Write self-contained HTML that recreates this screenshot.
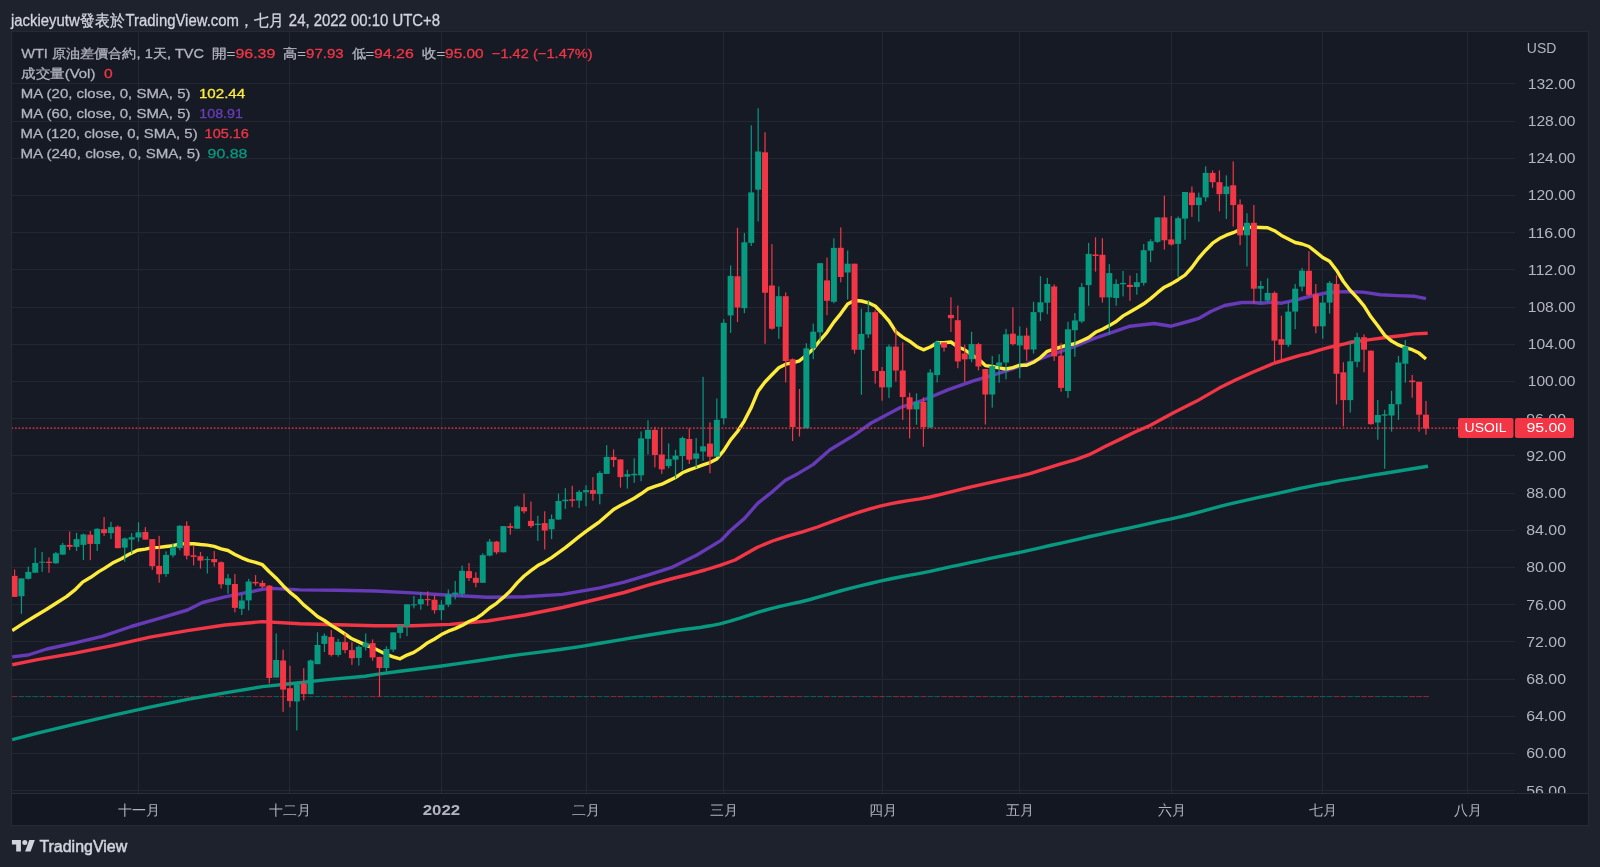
<!DOCTYPE html>
<html><head><meta charset="utf-8"><style>
*{margin:0;padding:0;box-sizing:border-box}
html,body{width:1600px;height:867px;overflow:hidden;background:#1e222d}
svg{position:absolute;left:0;top:0;font-family:"Liberation Sans",sans-serif}
.tx{will-change:transform}
</style></head><body>
<svg width="1600" height="867" viewBox="0 0 1600 867">
<defs>
<clipPath id="cp"><rect x="12" y="32" width="1503" height="761"/></clipPath>
<clipPath id="ca"><rect x="1516" y="32" width="72" height="761"/></clipPath>
</defs>
<rect x="11.5" y="31.5" width="1577" height="794" fill="#161a25" stroke="#262a35" stroke-width="1"/>
<rect x="12" y="794" width="1576" height="31" fill="#131722"/>
<line x1="12" y1="793.5" x2="1588" y2="793.5" stroke="#2a2e39" stroke-width="1"/>
<line x1="1515.5" y1="793" x2="1515.5" y2="794" stroke="#161a25" stroke-width="1"/>
<g clip-path="url(#cp)">
<line x1="12" y1="790.5" x2="1515" y2="790.5" stroke="#232733" stroke-width="1"/>
<line x1="12" y1="753.5" x2="1515" y2="753.5" stroke="#232733" stroke-width="1"/>
<line x1="12" y1="716.5" x2="1515" y2="716.5" stroke="#232733" stroke-width="1"/>
<line x1="12" y1="679.5" x2="1515" y2="679.5" stroke="#232733" stroke-width="1"/>
<line x1="12" y1="641.5" x2="1515" y2="641.5" stroke="#232733" stroke-width="1"/>
<line x1="12" y1="604.5" x2="1515" y2="604.5" stroke="#232733" stroke-width="1"/>
<line x1="12" y1="567.5" x2="1515" y2="567.5" stroke="#232733" stroke-width="1"/>
<line x1="12" y1="530.5" x2="1515" y2="530.5" stroke="#232733" stroke-width="1"/>
<line x1="12" y1="493.5" x2="1515" y2="493.5" stroke="#232733" stroke-width="1"/>
<line x1="12" y1="455.5" x2="1515" y2="455.5" stroke="#232733" stroke-width="1"/>
<line x1="12" y1="418.5" x2="1515" y2="418.5" stroke="#232733" stroke-width="1"/>
<line x1="12" y1="381.5" x2="1515" y2="381.5" stroke="#232733" stroke-width="1"/>
<line x1="12" y1="344.5" x2="1515" y2="344.5" stroke="#232733" stroke-width="1"/>
<line x1="12" y1="307.5" x2="1515" y2="307.5" stroke="#232733" stroke-width="1"/>
<line x1="12" y1="269.5" x2="1515" y2="269.5" stroke="#232733" stroke-width="1"/>
<line x1="12" y1="232.5" x2="1515" y2="232.5" stroke="#232733" stroke-width="1"/>
<line x1="12" y1="195.5" x2="1515" y2="195.5" stroke="#232733" stroke-width="1"/>
<line x1="12" y1="158.5" x2="1515" y2="158.5" stroke="#232733" stroke-width="1"/>
<line x1="12" y1="121.5" x2="1515" y2="121.5" stroke="#232733" stroke-width="1"/>
<line x1="12" y1="83.5" x2="1515" y2="83.5" stroke="#232733" stroke-width="1"/>
<line x1="138.5" y1="32" x2="138.5" y2="793" stroke="#232733" stroke-width="1"/>
<line x1="289.5" y1="32" x2="289.5" y2="793" stroke="#232733" stroke-width="1"/>
<line x1="441.5" y1="32" x2="441.5" y2="793" stroke="#232733" stroke-width="1"/>
<line x1="586.5" y1="32" x2="586.5" y2="793" stroke="#232733" stroke-width="1"/>
<line x1="723.5" y1="32" x2="723.5" y2="793" stroke="#232733" stroke-width="1"/>
<line x1="882.5" y1="32" x2="882.5" y2="793" stroke="#232733" stroke-width="1"/>
<line x1="1019.5" y1="32" x2="1019.5" y2="793" stroke="#232733" stroke-width="1"/>
<line x1="1171.5" y1="32" x2="1171.5" y2="793" stroke="#232733" stroke-width="1"/>
<line x1="1322.5" y1="32" x2="1322.5" y2="793" stroke="#232733" stroke-width="1"/>
<line x1="1467.5" y1="32" x2="1467.5" y2="793" stroke="#232733" stroke-width="1"/>
<rect x="11.72" y="696" width="5.7" height="1.1" fill="#f23645" fill-opacity="0.5"/>
<rect x="18.60" y="696" width="5.7" height="1.1" fill="#089981" fill-opacity="0.5"/>
<rect x="25.49" y="696" width="5.7" height="1.1" fill="#089981" fill-opacity="0.5"/>
<rect x="32.38" y="696" width="5.7" height="1.1" fill="#089981" fill-opacity="0.5"/>
<rect x="39.26" y="696" width="5.7" height="1.1" fill="#089981" fill-opacity="0.5"/>
<rect x="46.15" y="696" width="5.7" height="1.1" fill="#f23645" fill-opacity="0.5"/>
<rect x="53.03" y="696" width="5.7" height="1.1" fill="#089981" fill-opacity="0.5"/>
<rect x="59.91" y="696" width="5.7" height="1.1" fill="#089981" fill-opacity="0.5"/>
<rect x="66.80" y="696" width="5.7" height="1.1" fill="#f23645" fill-opacity="0.5"/>
<rect x="73.69" y="696" width="5.7" height="1.1" fill="#089981" fill-opacity="0.5"/>
<rect x="80.57" y="696" width="5.7" height="1.1" fill="#089981" fill-opacity="0.5"/>
<rect x="87.46" y="696" width="5.7" height="1.1" fill="#f23645" fill-opacity="0.5"/>
<rect x="94.34" y="696" width="5.7" height="1.1" fill="#089981" fill-opacity="0.5"/>
<rect x="101.23" y="696" width="5.7" height="1.1" fill="#f23645" fill-opacity="0.5"/>
<rect x="108.11" y="696" width="5.7" height="1.1" fill="#089981" fill-opacity="0.5"/>
<rect x="115.00" y="696" width="5.7" height="1.1" fill="#f23645" fill-opacity="0.5"/>
<rect x="121.88" y="696" width="5.7" height="1.1" fill="#089981" fill-opacity="0.5"/>
<rect x="128.77" y="696" width="5.7" height="1.1" fill="#089981" fill-opacity="0.5"/>
<rect x="135.65" y="696" width="5.7" height="1.1" fill="#089981" fill-opacity="0.5"/>
<rect x="142.53" y="696" width="5.7" height="1.1" fill="#f23645" fill-opacity="0.5"/>
<rect x="149.42" y="696" width="5.7" height="1.1" fill="#f23645" fill-opacity="0.5"/>
<rect x="156.31" y="696" width="5.7" height="1.1" fill="#f23645" fill-opacity="0.5"/>
<rect x="163.19" y="696" width="5.7" height="1.1" fill="#089981" fill-opacity="0.5"/>
<rect x="170.08" y="696" width="5.7" height="1.1" fill="#089981" fill-opacity="0.5"/>
<rect x="176.96" y="696" width="5.7" height="1.1" fill="#089981" fill-opacity="0.5"/>
<rect x="183.84" y="696" width="5.7" height="1.1" fill="#f23645" fill-opacity="0.5"/>
<rect x="190.73" y="696" width="5.7" height="1.1" fill="#f23645" fill-opacity="0.5"/>
<rect x="197.62" y="696" width="5.7" height="1.1" fill="#f23645" fill-opacity="0.5"/>
<rect x="204.50" y="696" width="5.7" height="1.1" fill="#089981" fill-opacity="0.5"/>
<rect x="211.39" y="696" width="5.7" height="1.1" fill="#f23645" fill-opacity="0.5"/>
<rect x="218.27" y="696" width="5.7" height="1.1" fill="#f23645" fill-opacity="0.5"/>
<rect x="225.16" y="696" width="5.7" height="1.1" fill="#089981" fill-opacity="0.5"/>
<rect x="232.04" y="696" width="5.7" height="1.1" fill="#f23645" fill-opacity="0.5"/>
<rect x="238.92" y="696" width="5.7" height="1.1" fill="#089981" fill-opacity="0.5"/>
<rect x="245.81" y="696" width="5.7" height="1.1" fill="#089981" fill-opacity="0.5"/>
<rect x="252.70" y="696" width="5.7" height="1.1" fill="#f23645" fill-opacity="0.5"/>
<rect x="259.58" y="696" width="5.7" height="1.1" fill="#f23645" fill-opacity="0.5"/>
<rect x="266.46" y="696" width="5.7" height="1.1" fill="#f23645" fill-opacity="0.5"/>
<rect x="273.35" y="696" width="5.7" height="1.1" fill="#089981" fill-opacity="0.5"/>
<rect x="280.24" y="696" width="5.7" height="1.1" fill="#f23645" fill-opacity="0.5"/>
<rect x="287.12" y="696" width="5.7" height="1.1" fill="#f23645" fill-opacity="0.5"/>
<rect x="294.00" y="696" width="5.7" height="1.1" fill="#089981" fill-opacity="0.5"/>
<rect x="300.89" y="696" width="5.7" height="1.1" fill="#f23645" fill-opacity="0.5"/>
<rect x="307.77" y="696" width="5.7" height="1.1" fill="#089981" fill-opacity="0.5"/>
<rect x="314.66" y="696" width="5.7" height="1.1" fill="#089981" fill-opacity="0.5"/>
<rect x="321.54" y="696" width="5.7" height="1.1" fill="#089981" fill-opacity="0.5"/>
<rect x="328.43" y="696" width="5.7" height="1.1" fill="#f23645" fill-opacity="0.5"/>
<rect x="335.31" y="696" width="5.7" height="1.1" fill="#089981" fill-opacity="0.5"/>
<rect x="342.20" y="696" width="5.7" height="1.1" fill="#f23645" fill-opacity="0.5"/>
<rect x="349.08" y="696" width="5.7" height="1.1" fill="#f23645" fill-opacity="0.5"/>
<rect x="355.97" y="696" width="5.7" height="1.1" fill="#089981" fill-opacity="0.5"/>
<rect x="362.85" y="696" width="5.7" height="1.1" fill="#089981" fill-opacity="0.5"/>
<rect x="369.74" y="696" width="5.7" height="1.1" fill="#f23645" fill-opacity="0.5"/>
<rect x="376.62" y="696" width="5.7" height="1.1" fill="#f23645" fill-opacity="0.5"/>
<rect x="383.51" y="696" width="5.7" height="1.1" fill="#089981" fill-opacity="0.5"/>
<rect x="390.39" y="696" width="5.7" height="1.1" fill="#089981" fill-opacity="0.5"/>
<rect x="397.28" y="696" width="5.7" height="1.1" fill="#089981" fill-opacity="0.5"/>
<rect x="404.16" y="696" width="5.7" height="1.1" fill="#089981" fill-opacity="0.5"/>
<rect x="411.05" y="696" width="5.7" height="1.1" fill="#089981" fill-opacity="0.5"/>
<rect x="417.93" y="696" width="5.7" height="1.1" fill="#089981" fill-opacity="0.5"/>
<rect x="424.82" y="696" width="5.7" height="1.1" fill="#f23645" fill-opacity="0.5"/>
<rect x="431.70" y="696" width="5.7" height="1.1" fill="#f23645" fill-opacity="0.5"/>
<rect x="438.59" y="696" width="5.7" height="1.1" fill="#089981" fill-opacity="0.5"/>
<rect x="445.47" y="696" width="5.7" height="1.1" fill="#089981" fill-opacity="0.5"/>
<rect x="452.36" y="696" width="5.7" height="1.1" fill="#089981" fill-opacity="0.5"/>
<rect x="459.24" y="696" width="5.7" height="1.1" fill="#089981" fill-opacity="0.5"/>
<rect x="466.13" y="696" width="5.7" height="1.1" fill="#f23645" fill-opacity="0.5"/>
<rect x="473.01" y="696" width="5.7" height="1.1" fill="#f23645" fill-opacity="0.5"/>
<rect x="479.90" y="696" width="5.7" height="1.1" fill="#089981" fill-opacity="0.5"/>
<rect x="486.78" y="696" width="5.7" height="1.1" fill="#089981" fill-opacity="0.5"/>
<rect x="493.67" y="696" width="5.7" height="1.1" fill="#f23645" fill-opacity="0.5"/>
<rect x="500.55" y="696" width="5.7" height="1.1" fill="#089981" fill-opacity="0.5"/>
<rect x="507.44" y="696" width="5.7" height="1.1" fill="#f23645" fill-opacity="0.5"/>
<rect x="514.32" y="696" width="5.7" height="1.1" fill="#089981" fill-opacity="0.5"/>
<rect x="521.21" y="696" width="5.7" height="1.1" fill="#f23645" fill-opacity="0.5"/>
<rect x="528.09" y="696" width="5.7" height="1.1" fill="#f23645" fill-opacity="0.5"/>
<rect x="534.98" y="696" width="5.7" height="1.1" fill="#089981" fill-opacity="0.5"/>
<rect x="541.86" y="696" width="5.7" height="1.1" fill="#f23645" fill-opacity="0.5"/>
<rect x="548.75" y="696" width="5.7" height="1.1" fill="#089981" fill-opacity="0.5"/>
<rect x="555.63" y="696" width="5.7" height="1.1" fill="#089981" fill-opacity="0.5"/>
<rect x="562.52" y="696" width="5.7" height="1.1" fill="#089981" fill-opacity="0.5"/>
<rect x="569.40" y="696" width="5.7" height="1.1" fill="#f23645" fill-opacity="0.5"/>
<rect x="576.29" y="696" width="5.7" height="1.1" fill="#089981" fill-opacity="0.5"/>
<rect x="583.17" y="696" width="5.7" height="1.1" fill="#089981" fill-opacity="0.5"/>
<rect x="590.06" y="696" width="5.7" height="1.1" fill="#f23645" fill-opacity="0.5"/>
<rect x="596.94" y="696" width="5.7" height="1.1" fill="#089981" fill-opacity="0.5"/>
<rect x="603.83" y="696" width="5.7" height="1.1" fill="#089981" fill-opacity="0.5"/>
<rect x="610.72" y="696" width="5.7" height="1.1" fill="#f23645" fill-opacity="0.5"/>
<rect x="617.60" y="696" width="5.7" height="1.1" fill="#f23645" fill-opacity="0.5"/>
<rect x="624.49" y="696" width="5.7" height="1.1" fill="#089981" fill-opacity="0.5"/>
<rect x="631.37" y="696" width="5.7" height="1.1" fill="#089981" fill-opacity="0.5"/>
<rect x="638.25" y="696" width="5.7" height="1.1" fill="#089981" fill-opacity="0.5"/>
<rect x="645.14" y="696" width="5.7" height="1.1" fill="#089981" fill-opacity="0.5"/>
<rect x="652.02" y="696" width="5.7" height="1.1" fill="#f23645" fill-opacity="0.5"/>
<rect x="658.91" y="696" width="5.7" height="1.1" fill="#f23645" fill-opacity="0.5"/>
<rect x="665.79" y="696" width="5.7" height="1.1" fill="#089981" fill-opacity="0.5"/>
<rect x="672.68" y="696" width="5.7" height="1.1" fill="#089981" fill-opacity="0.5"/>
<rect x="679.56" y="696" width="5.7" height="1.1" fill="#089981" fill-opacity="0.5"/>
<rect x="686.45" y="696" width="5.7" height="1.1" fill="#f23645" fill-opacity="0.5"/>
<rect x="693.33" y="696" width="5.7" height="1.1" fill="#089981" fill-opacity="0.5"/>
<rect x="700.22" y="696" width="5.7" height="1.1" fill="#089981" fill-opacity="0.5"/>
<rect x="707.10" y="696" width="5.7" height="1.1" fill="#f23645" fill-opacity="0.5"/>
<rect x="713.99" y="696" width="5.7" height="1.1" fill="#089981" fill-opacity="0.5"/>
<rect x="720.88" y="696" width="5.7" height="1.1" fill="#089981" fill-opacity="0.5"/>
<rect x="727.76" y="696" width="5.7" height="1.1" fill="#089981" fill-opacity="0.5"/>
<rect x="734.64" y="696" width="5.7" height="1.1" fill="#f23645" fill-opacity="0.5"/>
<rect x="741.53" y="696" width="5.7" height="1.1" fill="#089981" fill-opacity="0.5"/>
<rect x="748.41" y="696" width="5.7" height="1.1" fill="#089981" fill-opacity="0.5"/>
<rect x="755.30" y="696" width="5.7" height="1.1" fill="#089981" fill-opacity="0.5"/>
<rect x="762.18" y="696" width="5.7" height="1.1" fill="#f23645" fill-opacity="0.5"/>
<rect x="769.07" y="696" width="5.7" height="1.1" fill="#f23645" fill-opacity="0.5"/>
<rect x="775.95" y="696" width="5.7" height="1.1" fill="#089981" fill-opacity="0.5"/>
<rect x="782.84" y="696" width="5.7" height="1.1" fill="#f23645" fill-opacity="0.5"/>
<rect x="789.72" y="696" width="5.7" height="1.1" fill="#f23645" fill-opacity="0.5"/>
<rect x="796.61" y="696" width="5.7" height="1.1" fill="#f23645" fill-opacity="0.5"/>
<rect x="803.50" y="696" width="5.7" height="1.1" fill="#089981" fill-opacity="0.5"/>
<rect x="810.38" y="696" width="5.7" height="1.1" fill="#089981" fill-opacity="0.5"/>
<rect x="817.26" y="696" width="5.7" height="1.1" fill="#089981" fill-opacity="0.5"/>
<rect x="824.15" y="696" width="5.7" height="1.1" fill="#f23645" fill-opacity="0.5"/>
<rect x="831.03" y="696" width="5.7" height="1.1" fill="#089981" fill-opacity="0.5"/>
<rect x="837.92" y="696" width="5.7" height="1.1" fill="#f23645" fill-opacity="0.5"/>
<rect x="844.80" y="696" width="5.7" height="1.1" fill="#089981" fill-opacity="0.5"/>
<rect x="851.69" y="696" width="5.7" height="1.1" fill="#f23645" fill-opacity="0.5"/>
<rect x="858.57" y="696" width="5.7" height="1.1" fill="#089981" fill-opacity="0.5"/>
<rect x="865.46" y="696" width="5.7" height="1.1" fill="#089981" fill-opacity="0.5"/>
<rect x="872.34" y="696" width="5.7" height="1.1" fill="#f23645" fill-opacity="0.5"/>
<rect x="879.23" y="696" width="5.7" height="1.1" fill="#f23645" fill-opacity="0.5"/>
<rect x="886.12" y="696" width="5.7" height="1.1" fill="#089981" fill-opacity="0.5"/>
<rect x="893.00" y="696" width="5.7" height="1.1" fill="#f23645" fill-opacity="0.5"/>
<rect x="899.88" y="696" width="5.7" height="1.1" fill="#f23645" fill-opacity="0.5"/>
<rect x="906.77" y="696" width="5.7" height="1.1" fill="#f23645" fill-opacity="0.5"/>
<rect x="913.65" y="696" width="5.7" height="1.1" fill="#089981" fill-opacity="0.5"/>
<rect x="920.54" y="696" width="5.7" height="1.1" fill="#f23645" fill-opacity="0.5"/>
<rect x="927.42" y="696" width="5.7" height="1.1" fill="#089981" fill-opacity="0.5"/>
<rect x="934.31" y="696" width="5.7" height="1.1" fill="#089981" fill-opacity="0.5"/>
<rect x="941.19" y="696" width="5.7" height="1.1" fill="#f23645" fill-opacity="0.5"/>
<rect x="948.08" y="696" width="5.7" height="1.1" fill="#f23645" fill-opacity="0.5"/>
<rect x="954.96" y="696" width="5.7" height="1.1" fill="#f23645" fill-opacity="0.5"/>
<rect x="961.85" y="696" width="5.7" height="1.1" fill="#f23645" fill-opacity="0.5"/>
<rect x="968.73" y="696" width="5.7" height="1.1" fill="#089981" fill-opacity="0.5"/>
<rect x="975.62" y="696" width="5.7" height="1.1" fill="#f23645" fill-opacity="0.5"/>
<rect x="982.50" y="696" width="5.7" height="1.1" fill="#f23645" fill-opacity="0.5"/>
<rect x="989.39" y="696" width="5.7" height="1.1" fill="#089981" fill-opacity="0.5"/>
<rect x="996.27" y="696" width="5.7" height="1.1" fill="#089981" fill-opacity="0.5"/>
<rect x="1003.16" y="696" width="5.7" height="1.1" fill="#089981" fill-opacity="0.5"/>
<rect x="1010.04" y="696" width="5.7" height="1.1" fill="#f23645" fill-opacity="0.5"/>
<rect x="1016.93" y="696" width="5.7" height="1.1" fill="#089981" fill-opacity="0.5"/>
<rect x="1023.81" y="696" width="5.7" height="1.1" fill="#f23645" fill-opacity="0.5"/>
<rect x="1030.70" y="696" width="5.7" height="1.1" fill="#089981" fill-opacity="0.5"/>
<rect x="1037.59" y="696" width="5.7" height="1.1" fill="#089981" fill-opacity="0.5"/>
<rect x="1044.47" y="696" width="5.7" height="1.1" fill="#089981" fill-opacity="0.5"/>
<rect x="1051.36" y="696" width="5.7" height="1.1" fill="#f23645" fill-opacity="0.5"/>
<rect x="1058.24" y="696" width="5.7" height="1.1" fill="#f23645" fill-opacity="0.5"/>
<rect x="1065.12" y="696" width="5.7" height="1.1" fill="#089981" fill-opacity="0.5"/>
<rect x="1072.01" y="696" width="5.7" height="1.1" fill="#089981" fill-opacity="0.5"/>
<rect x="1078.89" y="696" width="5.7" height="1.1" fill="#089981" fill-opacity="0.5"/>
<rect x="1085.78" y="696" width="5.7" height="1.1" fill="#089981" fill-opacity="0.5"/>
<rect x="1092.66" y="696" width="5.7" height="1.1" fill="#f23645" fill-opacity="0.5"/>
<rect x="1099.55" y="696" width="5.7" height="1.1" fill="#f23645" fill-opacity="0.5"/>
<rect x="1106.43" y="696" width="5.7" height="1.1" fill="#089981" fill-opacity="0.5"/>
<rect x="1113.32" y="696" width="5.7" height="1.1" fill="#089981" fill-opacity="0.5"/>
<rect x="1120.20" y="696" width="5.7" height="1.1" fill="#089981" fill-opacity="0.5"/>
<rect x="1127.09" y="696" width="5.7" height="1.1" fill="#f23645" fill-opacity="0.5"/>
<rect x="1133.97" y="696" width="5.7" height="1.1" fill="#089981" fill-opacity="0.5"/>
<rect x="1140.86" y="696" width="5.7" height="1.1" fill="#089981" fill-opacity="0.5"/>
<rect x="1147.74" y="696" width="5.7" height="1.1" fill="#089981" fill-opacity="0.5"/>
<rect x="1154.63" y="696" width="5.7" height="1.1" fill="#089981" fill-opacity="0.5"/>
<rect x="1161.52" y="696" width="5.7" height="1.1" fill="#f23645" fill-opacity="0.5"/>
<rect x="1168.40" y="696" width="5.7" height="1.1" fill="#f23645" fill-opacity="0.5"/>
<rect x="1175.29" y="696" width="5.7" height="1.1" fill="#089981" fill-opacity="0.5"/>
<rect x="1182.17" y="696" width="5.7" height="1.1" fill="#089981" fill-opacity="0.5"/>
<rect x="1189.06" y="696" width="5.7" height="1.1" fill="#f23645" fill-opacity="0.5"/>
<rect x="1195.94" y="696" width="5.7" height="1.1" fill="#089981" fill-opacity="0.5"/>
<rect x="1202.83" y="696" width="5.7" height="1.1" fill="#089981" fill-opacity="0.5"/>
<rect x="1209.71" y="696" width="5.7" height="1.1" fill="#f23645" fill-opacity="0.5"/>
<rect x="1216.60" y="696" width="5.7" height="1.1" fill="#f23645" fill-opacity="0.5"/>
<rect x="1223.48" y="696" width="5.7" height="1.1" fill="#089981" fill-opacity="0.5"/>
<rect x="1230.37" y="696" width="5.7" height="1.1" fill="#f23645" fill-opacity="0.5"/>
<rect x="1237.25" y="696" width="5.7" height="1.1" fill="#f23645" fill-opacity="0.5"/>
<rect x="1244.13" y="696" width="5.7" height="1.1" fill="#089981" fill-opacity="0.5"/>
<rect x="1251.02" y="696" width="5.7" height="1.1" fill="#f23645" fill-opacity="0.5"/>
<rect x="1257.90" y="696" width="5.7" height="1.1" fill="#089981" fill-opacity="0.5"/>
<rect x="1264.79" y="696" width="5.7" height="1.1" fill="#089981" fill-opacity="0.5"/>
<rect x="1271.67" y="696" width="5.7" height="1.1" fill="#f23645" fill-opacity="0.5"/>
<rect x="1278.56" y="696" width="5.7" height="1.1" fill="#f23645" fill-opacity="0.5"/>
<rect x="1285.45" y="696" width="5.7" height="1.1" fill="#089981" fill-opacity="0.5"/>
<rect x="1292.33" y="696" width="5.7" height="1.1" fill="#089981" fill-opacity="0.5"/>
<rect x="1299.22" y="696" width="5.7" height="1.1" fill="#089981" fill-opacity="0.5"/>
<rect x="1306.10" y="696" width="5.7" height="1.1" fill="#f23645" fill-opacity="0.5"/>
<rect x="1312.99" y="696" width="5.7" height="1.1" fill="#f23645" fill-opacity="0.5"/>
<rect x="1319.87" y="696" width="5.7" height="1.1" fill="#089981" fill-opacity="0.5"/>
<rect x="1326.76" y="696" width="5.7" height="1.1" fill="#089981" fill-opacity="0.5"/>
<rect x="1333.64" y="696" width="5.7" height="1.1" fill="#f23645" fill-opacity="0.5"/>
<rect x="1340.53" y="696" width="5.7" height="1.1" fill="#f23645" fill-opacity="0.5"/>
<rect x="1347.41" y="696" width="5.7" height="1.1" fill="#089981" fill-opacity="0.5"/>
<rect x="1354.30" y="696" width="5.7" height="1.1" fill="#089981" fill-opacity="0.5"/>
<rect x="1361.18" y="696" width="5.7" height="1.1" fill="#f23645" fill-opacity="0.5"/>
<rect x="1368.07" y="696" width="5.7" height="1.1" fill="#f23645" fill-opacity="0.5"/>
<rect x="1374.95" y="696" width="5.7" height="1.1" fill="#089981" fill-opacity="0.5"/>
<rect x="1381.84" y="696" width="5.7" height="1.1" fill="#089981" fill-opacity="0.5"/>
<rect x="1388.72" y="696" width="5.7" height="1.1" fill="#089981" fill-opacity="0.5"/>
<rect x="1395.61" y="696" width="5.7" height="1.1" fill="#089981" fill-opacity="0.5"/>
<rect x="1402.49" y="696" width="5.7" height="1.1" fill="#089981" fill-opacity="0.5"/>
<rect x="1409.38" y="696" width="5.7" height="1.1" fill="#f23645" fill-opacity="0.5"/>
<rect x="1416.26" y="696" width="5.7" height="1.1" fill="#f23645" fill-opacity="0.5"/>
<rect x="1423.14" y="696" width="5.7" height="1.1" fill="#f23645" fill-opacity="0.5"/>
<polyline points="12.2,739.7 37.5,733.1 75.0,724.1 112.5,715.3 150.0,707.2 187.5,699.4 225.0,692.8 262.5,686.6 290.0,683.8 327.5,679.6 365.0,676.2 380.0,673.9 400.0,671.3 420.0,668.8 440.0,666.2 460.0,663.4 480.0,660.5 500.0,657.5 520.0,654.6 540.0,652.1 560.0,649.5 580.0,646.6 600.0,643.3 620.0,639.9 640.0,636.5 660.0,633.2 680.0,630.0 700.0,627.5 710.0,625.8 720.0,623.8 730.0,621.2 740.0,618.2 750.0,614.9 760.0,611.7 770.0,608.9 780.0,606.4 790.0,604.1 800.0,602.0 810.0,599.5 820.0,596.7 830.0,593.9 840.0,591.0 850.0,588.4 860.0,585.9 870.0,583.5 880.0,581.2 890.0,579.0 900.0,577.0 910.0,575.2 920.0,573.4 930.0,571.4 940.0,569.1 950.0,566.9 960.0,564.8 970.0,562.7 980.0,560.6 990.0,558.4 1000.0,556.3 1010.0,554.3 1020.0,552.4 1030.0,550.2 1040.0,547.8 1050.0,545.5 1060.0,543.3 1070.0,541.1 1080.0,538.9 1090.0,536.5 1100.0,534.3 1110.0,532.1 1120.0,530.0 1130.0,527.8 1140.0,525.6 1150.0,523.4 1160.0,521.2 1170.0,519.1 1180.0,516.9 1190.0,514.5 1200.0,511.8 1210.0,509.1 1220.0,506.4 1230.0,503.8 1240.0,501.6 1250.0,499.4 1260.0,497.2 1270.0,495.1 1280.0,492.9 1290.0,490.6 1300.0,488.3 1310.0,486.3 1320.0,484.4 1330.0,482.7 1340.0,480.6 1357.5,477.9 1371.2,475.4 1385.0,473.2 1398.8,471.0 1412.5,468.7 1428.0,466.2" fill="none" stroke="#089981" stroke-width="3.4" stroke-linejoin="round" stroke-linecap="butt"/>
<polyline points="12.2,664.8 37.5,659.7 75.0,653.1 112.5,645.6 150.0,637.2 187.5,630.6 225.0,625.0 262.5,621.6 300.0,623.7 337.5,624.8 375.0,625.7 412.5,625.7 450.0,624.4 487.5,621.0 525.0,615.0 562.5,607.5 600.0,598.5 624.2,592.5 648.4,585.2 672.6,578.5 690.0,574.2 705.0,570.0 720.0,565.3 735.0,560.0 745.5,554.0 757.5,547.2 772.5,541.0 787.5,536.1 802.5,531.9 817.5,527.0 832.5,521.4 847.5,516.0 860.0,511.9 870.0,508.8 880.0,506.2 890.0,503.9 900.0,502.0 910.0,500.4 920.0,498.9 930.0,497.0 940.0,494.6 950.0,492.1 960.0,489.7 970.0,487.2 980.0,484.8 990.0,482.6 1000.0,480.4 1010.0,478.2 1020.0,476.2 1030.0,473.6 1045.0,468.8 1060.0,464.2 1075.0,459.8 1088.5,454.9 1097.5,450.4 1105.0,446.6 1120.0,439.4 1135.0,432.0 1150.0,425.5 1172.5,413.2 1196.7,401.1 1219.2,388.1 1236.5,379.5 1253.8,371.7 1274.6,363.0 1300.0,355.3 1308.7,353.4 1317.5,350.6 1326.2,348.2 1335.0,346.0 1343.7,344.1 1352.5,342.0 1370.0,339.6 1387.5,337.3 1405.0,335.3 1413.7,333.9 1427.7,333.2" fill="none" stroke="#f23645" stroke-width="3.4" stroke-linejoin="round" stroke-linecap="butt"/>
<polyline points="12.2,656.9 28.1,655.0 46.9,649.0 75.0,642.8 103.1,636.2 131.2,626.5 159.4,618.4 187.5,610.0 202.5,602.5 225.0,596.9 243.8,593.1 262.5,589.4 271.9,588.4 300.0,589.9 337.5,590.2 375.0,591.0 412.5,592.9 450.0,595.3 487.5,597.2 525.0,596.8 562.5,594.4 600.0,587.8 624.2,582.1 648.4,574.8 672.6,567.1 696.9,555.0 721.1,540.4 730.0,531.0 744.8,518.1 757.7,503.3 770.6,493.2 785.4,480.3 798.3,473.4 813.0,464.6 830.0,449.8 854.2,435.1 871.2,423.0 900.0,407.7 924.2,399.8 948.4,389.6 972.6,381.1 996.9,373.8 1021.1,365.9 1045.3,356.9 1069.5,348.4 1093.7,338.7 1117.9,330.3 1130.0,326.2 1154.2,323.5 1171.2,326.2 1190.0,321.0 1198.7,318.4 1210.8,311.5 1224.6,305.5 1241.9,302.5 1254.0,302.5 1261.0,303.2 1271.0,302.3 1281.5,303.2 1288.4,301.6 1300.0,299.0 1311.1,296.0 1328.4,292.5 1345.7,291.6 1363.0,292.1 1380.3,294.7 1397.6,295.6 1414.9,296.3 1426.0,298.6" fill="none" stroke="#673ab7" stroke-width="3.4" stroke-linejoin="round" stroke-linecap="butt"/>
<polyline points="12.2,630.6 22.1,624.1 34.2,616.8 46.3,609.5 56.8,602.7 66.5,596.6 74.6,590.2 82.6,582.1 90.7,577.3 98.8,571.6 104.0,568.6 112.5,563.1 121.4,558.7 128.7,554.6 137.5,550.2 145.4,549.1 152.3,547.6 159.2,547.4 166.0,546.5 172.9,545.7 179.8,543.9 186.7,543.6 193.6,543.7 200.5,544.5 207.3,545.1 214.2,546.3 221.1,548.8 228.0,550.5 234.9,554.5 241.8,557.8 248.7,560.6 255.5,562.3 262.4,564.7 269.3,571.8 276.2,578.2 283.1,585.7 290.0,592.4 296.9,597.9 303.7,604.9 310.6,610.5 317.5,616.5 324.4,620.5 331.3,625.4 338.2,629.5 345.0,634.0 351.9,638.8 358.8,641.9 365.7,645.1 372.6,647.6 379.5,651.0 386.4,654.4 393.2,656.8 400.1,658.8 407.0,655.1 413.9,652.3 420.8,647.8 427.7,642.7 434.6,639.0 441.4,634.6 448.3,631.2 455.2,628.6 462.1,625.4 469.0,621.5 475.9,618.6 482.8,613.8 489.6,608.0 496.5,603.3 503.4,597.4 510.3,591.0 517.2,582.9 524.1,576.0 530.9,570.7 537.8,565.6 544.7,561.9 551.6,557.6 558.5,552.7 565.4,547.7 572.3,542.2 579.1,536.6 586.0,531.4 592.9,526.5 599.8,521.6 606.7,515.5 613.6,509.4 620.5,505.5 627.3,502.1 634.2,498.2 641.1,493.8 648.0,488.9 654.9,486.3 661.8,484.2 668.6,480.9 675.5,477.5 682.4,472.8 689.3,469.9 696.2,467.5 703.1,464.8 710.0,462.6 716.8,459.0 723.7,450.6 730.6,439.8 737.5,431.5 744.4,420.8 751.3,407.4 758.1,391.1 765.0,382.0 771.9,374.8 778.8,367.7 785.7,364.2 792.6,362.8 799.5,360.8 806.3,355.2 813.2,349.0 820.1,340.3 827.0,332.3 833.9,322.1 840.8,313.6 847.7,304.0 854.5,300.5 861.4,301.0 868.3,302.8 875.2,306.0 882.1,313.2 889.0,321.0 895.9,331.9 902.7,337.1 909.6,341.2 916.5,346.4 923.4,349.8 930.3,347.0 937.2,342.7 944.0,342.7 950.9,342.0 957.8,346.9 964.7,349.8 971.6,354.6 978.5,359.1 985.4,365.6 992.2,366.5 999.1,367.9 1006.0,369.0 1012.9,367.7 1019.8,365.1 1026.7,365.2 1033.5,362.3 1040.4,357.6 1047.3,351.3 1054.2,349.0 1061.1,347.0 1068.0,344.9 1074.9,343.8 1081.7,340.8 1088.6,337.6 1095.5,332.3 1102.4,329.2 1109.3,325.6 1116.2,321.5 1123.1,315.9 1129.9,312.0 1136.8,308.0 1143.7,303.8 1150.6,298.6 1157.5,292.7 1164.4,287.2 1171.2,283.9 1178.1,279.7 1185.0,275.1 1191.9,267.5 1198.8,258.0 1205.7,250.2 1212.6,243.2 1219.4,238.6 1226.3,235.2 1233.2,232.7 1240.1,229.6 1247.0,227.1 1253.9,227.3 1260.8,227.5 1267.6,227.8 1274.5,230.7 1281.4,235.4 1288.3,238.9 1295.2,242.5 1302.1,244.0 1309.0,246.5 1315.8,251.9 1322.7,257.5 1329.6,261.3 1336.5,270.2 1343.4,281.5 1350.3,290.5 1357.1,297.6 1364.0,305.8 1370.9,316.8 1377.8,325.7 1384.7,335.3 1391.6,341.1 1398.5,344.9 1405.3,347.6 1412.2,349.7 1419.1,353.1 1426.0,359.0" fill="none" stroke="#ffeb3b" stroke-width="3.4" stroke-linejoin="round" stroke-linecap="butt"/>
<rect x="13.97" y="569.5" width="1.2" height="27.5" fill="#f23645"/>
<rect x="11.57" y="575.9" width="6.0" height="21.0" fill="#f23645"/>
<rect x="20.85" y="578.4" width="1.2" height="35.5" fill="#089981"/>
<rect x="18.45" y="578.4" width="6.0" height="17.8" fill="#089981"/>
<rect x="27.74" y="566.6" width="1.2" height="12.9" fill="#089981"/>
<rect x="25.34" y="571.9" width="6.0" height="6.9" fill="#089981"/>
<rect x="34.63" y="547.7" width="1.2" height="25.0" fill="#089981"/>
<rect x="32.23" y="563.0" width="6.0" height="9.7" fill="#089981"/>
<rect x="41.51" y="552.0" width="1.2" height="19.9" fill="#089981"/>
<rect x="39.11" y="561.7" width="6.0" height="1.0" fill="#089981"/>
<rect x="48.40" y="557.4" width="1.2" height="15.3" fill="#f23645"/>
<rect x="46.00" y="561.7" width="6.0" height="1.3" fill="#f23645"/>
<rect x="55.28" y="552.0" width="1.2" height="11.8" fill="#089981"/>
<rect x="52.88" y="553.3" width="6.0" height="10.0" fill="#089981"/>
<rect x="62.16" y="542.8" width="1.2" height="12.1" fill="#089981"/>
<rect x="59.77" y="544.9" width="6.0" height="9.7" fill="#089981"/>
<rect x="69.05" y="531.5" width="1.2" height="18.6" fill="#f23645"/>
<rect x="66.65" y="544.9" width="6.0" height="1.9" fill="#f23645"/>
<rect x="75.94" y="532.8" width="1.2" height="18.1" fill="#089981"/>
<rect x="73.53" y="539.1" width="6.0" height="7.8" fill="#089981"/>
<rect x="82.82" y="533.6" width="1.2" height="26.5" fill="#089981"/>
<rect x="80.42" y="534.4" width="6.0" height="10.5" fill="#089981"/>
<rect x="89.71" y="531.0" width="1.2" height="29.1" fill="#f23645"/>
<rect x="87.31" y="534.7" width="6.0" height="9.2" fill="#f23645"/>
<rect x="96.59" y="528.3" width="1.2" height="22.6" fill="#089981"/>
<rect x="94.19" y="528.8" width="6.0" height="15.2" fill="#089981"/>
<rect x="103.48" y="517.0" width="1.2" height="18.9" fill="#f23645"/>
<rect x="101.08" y="529.1" width="6.0" height="4.0" fill="#f23645"/>
<rect x="110.36" y="521.8" width="1.2" height="17.3" fill="#089981"/>
<rect x="107.96" y="527.1" width="6.0" height="6.0" fill="#089981"/>
<rect x="117.25" y="525.5" width="1.2" height="22.6" fill="#f23645"/>
<rect x="114.84" y="526.7" width="6.0" height="21.5" fill="#f23645"/>
<rect x="124.13" y="537.5" width="1.2" height="24.2" fill="#089981"/>
<rect x="121.73" y="538.4" width="6.0" height="9.2" fill="#089981"/>
<rect x="131.02" y="533.1" width="1.2" height="20.5" fill="#089981"/>
<rect x="128.62" y="537.2" width="6.0" height="2.4" fill="#089981"/>
<rect x="137.90" y="522.3" width="1.2" height="19.4" fill="#089981"/>
<rect x="135.50" y="532.3" width="6.0" height="5.2" fill="#089981"/>
<rect x="144.78" y="527.1" width="1.2" height="12.4" fill="#f23645"/>
<rect x="142.38" y="532.0" width="6.0" height="7.6" fill="#f23645"/>
<rect x="151.67" y="539.1" width="1.2" height="30.7" fill="#f23645"/>
<rect x="149.27" y="539.1" width="6.0" height="27.1" fill="#f23645"/>
<rect x="158.56" y="535.9" width="1.2" height="46.8" fill="#f23645"/>
<rect x="156.16" y="565.9" width="6.0" height="8.4" fill="#f23645"/>
<rect x="165.44" y="551.4" width="1.2" height="25.4" fill="#089981"/>
<rect x="163.04" y="554.9" width="6.0" height="19.1" fill="#089981"/>
<rect x="172.33" y="543.3" width="1.2" height="14.1" fill="#089981"/>
<rect x="169.93" y="547.2" width="6.0" height="8.1" fill="#089981"/>
<rect x="179.21" y="525.0" width="1.2" height="25.4" fill="#089981"/>
<rect x="176.81" y="525.8" width="6.0" height="22.3" fill="#089981"/>
<rect x="186.09" y="521.3" width="1.2" height="38.1" fill="#f23645"/>
<rect x="183.69" y="525.8" width="6.0" height="29.9" fill="#f23645"/>
<rect x="192.98" y="546.0" width="1.2" height="19.4" fill="#f23645"/>
<rect x="190.58" y="555.3" width="6.0" height="1.6" fill="#f23645"/>
<rect x="199.87" y="552.0" width="1.2" height="16.6" fill="#f23645"/>
<rect x="197.47" y="556.2" width="6.0" height="4.4" fill="#f23645"/>
<rect x="206.75" y="556.5" width="1.2" height="17.0" fill="#089981"/>
<rect x="204.35" y="559.1" width="6.0" height="1.0" fill="#089981"/>
<rect x="213.64" y="550.9" width="1.2" height="15.7" fill="#f23645"/>
<rect x="211.24" y="559.0" width="6.0" height="3.2" fill="#f23645"/>
<rect x="220.52" y="561.4" width="1.2" height="27.1" fill="#f23645"/>
<rect x="218.12" y="562.2" width="6.0" height="22.1" fill="#f23645"/>
<rect x="227.41" y="574.0" width="1.2" height="19.7" fill="#089981"/>
<rect x="225.00" y="578.4" width="6.0" height="6.5" fill="#089981"/>
<rect x="234.29" y="574.0" width="1.2" height="38.3" fill="#f23645"/>
<rect x="231.89" y="584.0" width="6.0" height="23.9" fill="#f23645"/>
<rect x="241.17" y="594.2" width="1.2" height="20.8" fill="#089981"/>
<rect x="238.77" y="600.5" width="6.0" height="8.3" fill="#089981"/>
<rect x="248.06" y="578.8" width="1.2" height="31.6" fill="#089981"/>
<rect x="245.66" y="581.5" width="6.0" height="18.9" fill="#089981"/>
<rect x="254.95" y="575.1" width="1.2" height="10.6" fill="#f23645"/>
<rect x="252.55" y="582.0" width="6.0" height="1.4" fill="#f23645"/>
<rect x="261.83" y="580.4" width="1.2" height="7.6" fill="#f23645"/>
<rect x="259.43" y="582.9" width="6.0" height="3.7" fill="#f23645"/>
<rect x="268.71" y="585.0" width="1.2" height="98.5" fill="#f23645"/>
<rect x="266.31" y="585.7" width="6.0" height="92.3" fill="#f23645"/>
<rect x="275.60" y="633.5" width="1.2" height="44.1" fill="#089981"/>
<rect x="273.20" y="660.0" width="6.0" height="17.5" fill="#089981"/>
<rect x="282.49" y="649.6" width="1.2" height="62.3" fill="#f23645"/>
<rect x="280.09" y="660.5" width="6.0" height="29.1" fill="#f23645"/>
<rect x="289.37" y="665.8" width="1.2" height="41.5" fill="#f23645"/>
<rect x="286.97" y="688.2" width="6.0" height="12.9" fill="#f23645"/>
<rect x="296.25" y="682.6" width="1.2" height="47.8" fill="#089981"/>
<rect x="293.86" y="684.2" width="6.0" height="17.3" fill="#089981"/>
<rect x="303.14" y="668.1" width="1.2" height="32.3" fill="#f23645"/>
<rect x="300.74" y="683.5" width="6.0" height="10.6" fill="#f23645"/>
<rect x="310.02" y="659.5" width="1.2" height="34.6" fill="#089981"/>
<rect x="307.62" y="660.5" width="6.0" height="33.7" fill="#089981"/>
<rect x="316.91" y="632.3" width="1.2" height="31.8" fill="#089981"/>
<rect x="314.51" y="645.0" width="6.0" height="19.2" fill="#089981"/>
<rect x="323.79" y="633.5" width="1.2" height="18.5" fill="#089981"/>
<rect x="321.39" y="635.8" width="6.0" height="8.1" fill="#089981"/>
<rect x="330.68" y="630.0" width="1.2" height="26.5" fill="#f23645"/>
<rect x="328.28" y="636.9" width="6.0" height="18.0" fill="#f23645"/>
<rect x="337.56" y="638.8" width="1.2" height="17.8" fill="#089981"/>
<rect x="335.16" y="642.0" width="6.0" height="12.9" fill="#089981"/>
<rect x="344.45" y="633.5" width="1.2" height="19.8" fill="#f23645"/>
<rect x="342.05" y="642.2" width="6.0" height="7.9" fill="#f23645"/>
<rect x="351.33" y="642.2" width="1.2" height="22.7" fill="#f23645"/>
<rect x="348.94" y="650.1" width="6.0" height="8.1" fill="#f23645"/>
<rect x="358.22" y="645.3" width="1.2" height="20.3" fill="#089981"/>
<rect x="355.82" y="646.8" width="6.0" height="11.1" fill="#089981"/>
<rect x="365.10" y="633.5" width="1.2" height="17.0" fill="#089981"/>
<rect x="362.70" y="642.7" width="6.0" height="4.4" fill="#089981"/>
<rect x="371.99" y="639.4" width="1.2" height="21.2" fill="#f23645"/>
<rect x="369.59" y="643.1" width="6.0" height="14.4" fill="#f23645"/>
<rect x="378.88" y="656.9" width="1.2" height="39.7" fill="#f23645"/>
<rect x="376.48" y="656.9" width="6.0" height="11.1" fill="#f23645"/>
<rect x="385.76" y="646.4" width="1.2" height="25.3" fill="#089981"/>
<rect x="383.36" y="649.0" width="6.0" height="19.0" fill="#089981"/>
<rect x="392.64" y="632.4" width="1.2" height="19.6" fill="#089981"/>
<rect x="390.25" y="632.4" width="6.0" height="17.2" fill="#089981"/>
<rect x="399.53" y="624.2" width="1.2" height="14.2" fill="#089981"/>
<rect x="397.13" y="625.5" width="6.0" height="7.4" fill="#089981"/>
<rect x="406.41" y="604.3" width="1.2" height="31.8" fill="#089981"/>
<rect x="404.01" y="604.3" width="6.0" height="21.8" fill="#089981"/>
<rect x="413.30" y="596.0" width="1.2" height="12.4" fill="#089981"/>
<rect x="410.90" y="604.3" width="6.0" height="1.1" fill="#089981"/>
<rect x="420.18" y="592.3" width="1.2" height="17.5" fill="#089981"/>
<rect x="417.78" y="599.1" width="6.0" height="5.2" fill="#089981"/>
<rect x="427.07" y="591.4" width="1.2" height="14.4" fill="#f23645"/>
<rect x="424.67" y="599.1" width="6.0" height="1.1" fill="#f23645"/>
<rect x="433.95" y="595.1" width="1.2" height="18.5" fill="#f23645"/>
<rect x="431.56" y="599.7" width="6.0" height="10.5" fill="#f23645"/>
<rect x="440.84" y="600.2" width="1.2" height="19.8" fill="#089981"/>
<rect x="438.44" y="604.7" width="6.0" height="5.5" fill="#089981"/>
<rect x="447.72" y="589.5" width="1.2" height="17.5" fill="#089981"/>
<rect x="445.32" y="594.2" width="6.0" height="10.5" fill="#089981"/>
<rect x="454.61" y="580.9" width="1.2" height="18.5" fill="#089981"/>
<rect x="452.21" y="592.6" width="6.0" height="1.8" fill="#089981"/>
<rect x="461.49" y="565.6" width="1.2" height="31.4" fill="#089981"/>
<rect x="459.09" y="570.8" width="6.0" height="23.1" fill="#089981"/>
<rect x="468.38" y="563.0" width="1.2" height="17.9" fill="#f23645"/>
<rect x="465.98" y="571.1" width="6.0" height="7.0" fill="#f23645"/>
<rect x="475.26" y="572.2" width="1.2" height="15.1" fill="#f23645"/>
<rect x="472.87" y="577.8" width="6.0" height="5.0" fill="#f23645"/>
<rect x="482.15" y="553.2" width="1.2" height="29.5" fill="#089981"/>
<rect x="479.75" y="555.1" width="6.0" height="27.7" fill="#089981"/>
<rect x="489.03" y="539.0" width="1.2" height="17.4" fill="#089981"/>
<rect x="486.63" y="541.6" width="6.0" height="14.0" fill="#089981"/>
<rect x="495.92" y="540.9" width="1.2" height="13.3" fill="#f23645"/>
<rect x="493.52" y="541.6" width="6.0" height="10.7" fill="#f23645"/>
<rect x="502.80" y="526.1" width="1.2" height="26.2" fill="#089981"/>
<rect x="500.40" y="526.1" width="6.0" height="26.2" fill="#089981"/>
<rect x="509.69" y="523.1" width="1.2" height="11.6" fill="#f23645"/>
<rect x="507.29" y="526.1" width="6.0" height="1.8" fill="#f23645"/>
<rect x="516.57" y="505.2" width="1.2" height="23.4" fill="#089981"/>
<rect x="514.17" y="506.5" width="6.0" height="22.2" fill="#089981"/>
<rect x="523.46" y="493.6" width="1.2" height="19.9" fill="#f23645"/>
<rect x="521.06" y="507.1" width="6.0" height="4.2" fill="#f23645"/>
<rect x="530.34" y="501.5" width="1.2" height="26.4" fill="#f23645"/>
<rect x="527.94" y="520.9" width="6.0" height="5.2" fill="#f23645"/>
<rect x="537.23" y="515.8" width="1.2" height="25.1" fill="#089981"/>
<rect x="534.83" y="523.7" width="6.0" height="1.3" fill="#089981"/>
<rect x="544.11" y="511.3" width="1.2" height="38.2" fill="#f23645"/>
<rect x="541.71" y="523.1" width="6.0" height="7.4" fill="#f23645"/>
<rect x="551.00" y="514.5" width="1.2" height="24.6" fill="#089981"/>
<rect x="548.60" y="519.1" width="6.0" height="10.2" fill="#089981"/>
<rect x="557.88" y="493.6" width="1.2" height="26.4" fill="#089981"/>
<rect x="555.49" y="501.0" width="6.0" height="18.5" fill="#089981"/>
<rect x="564.77" y="488.2" width="1.2" height="20.7" fill="#089981"/>
<rect x="562.37" y="499.7" width="6.0" height="1.5" fill="#089981"/>
<rect x="571.65" y="485.8" width="1.2" height="21.2" fill="#f23645"/>
<rect x="569.25" y="499.3" width="6.0" height="1.5" fill="#f23645"/>
<rect x="578.54" y="490.1" width="1.2" height="17.9" fill="#089981"/>
<rect x="576.14" y="491.9" width="6.0" height="8.7" fill="#089981"/>
<rect x="585.42" y="485.3" width="1.2" height="20.9" fill="#089981"/>
<rect x="583.02" y="490.1" width="6.0" height="2.2" fill="#089981"/>
<rect x="592.31" y="477.2" width="1.2" height="23.4" fill="#f23645"/>
<rect x="589.91" y="490.1" width="6.0" height="3.7" fill="#f23645"/>
<rect x="599.19" y="471.1" width="1.2" height="33.2" fill="#089981"/>
<rect x="596.79" y="472.9" width="6.0" height="21.2" fill="#089981"/>
<rect x="606.08" y="445.2" width="1.2" height="28.6" fill="#089981"/>
<rect x="603.68" y="456.9" width="6.0" height="17.0" fill="#089981"/>
<rect x="612.97" y="449.5" width="1.2" height="17.4" fill="#f23645"/>
<rect x="610.57" y="456.9" width="6.0" height="3.1" fill="#f23645"/>
<rect x="619.85" y="459.4" width="1.2" height="28.2" fill="#f23645"/>
<rect x="617.45" y="459.4" width="6.0" height="17.7" fill="#f23645"/>
<rect x="626.74" y="469.8" width="1.2" height="18.8" fill="#089981"/>
<rect x="624.34" y="474.2" width="6.0" height="2.4" fill="#089981"/>
<rect x="633.62" y="458.2" width="1.2" height="24.6" fill="#089981"/>
<rect x="631.22" y="473.8" width="6.0" height="1.5" fill="#089981"/>
<rect x="640.50" y="431.4" width="1.2" height="49.8" fill="#089981"/>
<rect x="638.11" y="438.4" width="6.0" height="36.9" fill="#089981"/>
<rect x="647.39" y="420.3" width="1.2" height="34.2" fill="#089981"/>
<rect x="644.99" y="429.9" width="6.0" height="8.9" fill="#089981"/>
<rect x="654.27" y="426.8" width="1.2" height="40.6" fill="#f23645"/>
<rect x="651.88" y="429.9" width="6.0" height="25.1" fill="#f23645"/>
<rect x="661.16" y="427.7" width="1.2" height="46.2" fill="#f23645"/>
<rect x="658.76" y="454.5" width="6.0" height="14.8" fill="#f23645"/>
<rect x="668.04" y="443.4" width="1.2" height="24.9" fill="#089981"/>
<rect x="665.64" y="459.1" width="6.0" height="7.0" fill="#089981"/>
<rect x="674.93" y="449.8" width="1.2" height="28.6" fill="#089981"/>
<rect x="672.53" y="455.6" width="6.0" height="4.1" fill="#089981"/>
<rect x="681.81" y="436.5" width="1.2" height="33.6" fill="#089981"/>
<rect x="679.41" y="438.0" width="6.0" height="18.0" fill="#089981"/>
<rect x="688.70" y="428.2" width="1.2" height="35.7" fill="#f23645"/>
<rect x="686.30" y="439.0" width="6.0" height="20.7" fill="#f23645"/>
<rect x="695.58" y="438.0" width="1.2" height="30.1" fill="#089981"/>
<rect x="693.18" y="453.5" width="6.0" height="5.2" fill="#089981"/>
<rect x="702.47" y="376.8" width="1.2" height="84.0" fill="#089981"/>
<rect x="700.07" y="446.3" width="6.0" height="5.2" fill="#089981"/>
<rect x="709.35" y="422.4" width="1.2" height="50.8" fill="#f23645"/>
<rect x="706.95" y="443.6" width="6.0" height="13.1" fill="#f23645"/>
<rect x="716.24" y="398.5" width="1.2" height="58.1" fill="#089981"/>
<rect x="713.84" y="419.9" width="6.0" height="36.7" fill="#089981"/>
<rect x="723.12" y="319.1" width="1.2" height="105.4" fill="#089981"/>
<rect x="720.73" y="322.8" width="6.0" height="95.4" fill="#089981"/>
<rect x="730.01" y="265.4" width="1.2" height="67.5" fill="#089981"/>
<rect x="727.61" y="275.9" width="6.0" height="39.5" fill="#089981"/>
<rect x="736.89" y="227.8" width="1.2" height="94.2" fill="#f23645"/>
<rect x="734.50" y="276.3" width="6.0" height="31.2" fill="#f23645"/>
<rect x="743.78" y="233.0" width="1.2" height="80.2" fill="#089981"/>
<rect x="741.38" y="242.3" width="6.0" height="65.9" fill="#089981"/>
<rect x="750.66" y="125.3" width="1.2" height="120.7" fill="#089981"/>
<rect x="748.26" y="192.4" width="6.0" height="50.5" fill="#089981"/>
<rect x="757.55" y="108.3" width="1.2" height="113.2" fill="#089981"/>
<rect x="755.15" y="151.5" width="6.0" height="38.2" fill="#089981"/>
<rect x="764.43" y="132.2" width="1.2" height="211.7" fill="#f23645"/>
<rect x="762.03" y="152.3" width="6.0" height="140.5" fill="#f23645"/>
<rect x="771.32" y="244.1" width="1.2" height="85.6" fill="#f23645"/>
<rect x="768.92" y="285.5" width="6.0" height="43.2" fill="#f23645"/>
<rect x="778.20" y="286.5" width="1.2" height="52.4" fill="#089981"/>
<rect x="775.80" y="296.2" width="6.0" height="30.5" fill="#089981"/>
<rect x="785.09" y="292.4" width="1.2" height="90.1" fill="#f23645"/>
<rect x="782.69" y="296.2" width="6.0" height="64.8" fill="#f23645"/>
<rect x="791.97" y="358.4" width="1.2" height="82.6" fill="#f23645"/>
<rect x="789.57" y="359.2" width="6.0" height="67.8" fill="#f23645"/>
<rect x="798.86" y="389.0" width="1.2" height="47.6" fill="#f23645"/>
<rect x="796.46" y="427.5" width="6.0" height="1.0" fill="#f23645"/>
<rect x="805.75" y="343.2" width="1.2" height="85.1" fill="#089981"/>
<rect x="803.35" y="348.3" width="6.0" height="80.0" fill="#089981"/>
<rect x="812.63" y="323.6" width="1.2" height="35.6" fill="#089981"/>
<rect x="810.23" y="331.7" width="6.0" height="16.6" fill="#089981"/>
<rect x="819.51" y="263.2" width="1.2" height="78.2" fill="#089981"/>
<rect x="817.12" y="263.2" width="6.0" height="69.1" fill="#089981"/>
<rect x="826.40" y="257.6" width="1.2" height="57.6" fill="#f23645"/>
<rect x="824.00" y="280.4" width="6.0" height="20.4" fill="#f23645"/>
<rect x="833.28" y="238.3" width="1.2" height="65.0" fill="#089981"/>
<rect x="830.88" y="247.9" width="6.0" height="53.9" fill="#089981"/>
<rect x="840.17" y="227.4" width="1.2" height="54.9" fill="#f23645"/>
<rect x="837.77" y="247.8" width="6.0" height="29.2" fill="#f23645"/>
<rect x="847.05" y="250.5" width="1.2" height="49.0" fill="#089981"/>
<rect x="844.65" y="263.7" width="6.0" height="8.8" fill="#089981"/>
<rect x="853.94" y="263.7" width="1.2" height="90.1" fill="#f23645"/>
<rect x="851.54" y="263.7" width="6.0" height="86.1" fill="#f23645"/>
<rect x="860.82" y="308.7" width="1.2" height="86.1" fill="#089981"/>
<rect x="858.42" y="333.9" width="6.0" height="15.9" fill="#089981"/>
<rect x="867.71" y="300.0" width="1.2" height="37.9" fill="#089981"/>
<rect x="865.31" y="312.2" width="6.0" height="22.2" fill="#089981"/>
<rect x="874.59" y="310.1" width="1.2" height="73.6" fill="#f23645"/>
<rect x="872.19" y="312.2" width="6.0" height="58.8" fill="#f23645"/>
<rect x="881.48" y="367.0" width="1.2" height="33.7" fill="#f23645"/>
<rect x="879.08" y="371.0" width="6.0" height="16.4" fill="#f23645"/>
<rect x="888.37" y="344.5" width="1.2" height="53.5" fill="#089981"/>
<rect x="885.97" y="346.6" width="6.0" height="40.8" fill="#089981"/>
<rect x="895.25" y="328.6" width="1.2" height="53.0" fill="#f23645"/>
<rect x="892.85" y="346.6" width="6.0" height="23.9" fill="#f23645"/>
<rect x="902.13" y="342.4" width="1.2" height="77.6" fill="#f23645"/>
<rect x="899.74" y="370.5" width="6.0" height="26.5" fill="#f23645"/>
<rect x="909.02" y="392.7" width="1.2" height="45.7" fill="#f23645"/>
<rect x="906.62" y="397.3" width="6.0" height="12.1" fill="#f23645"/>
<rect x="915.90" y="393.3" width="1.2" height="31.4" fill="#089981"/>
<rect x="913.50" y="402.0" width="6.0" height="7.4" fill="#089981"/>
<rect x="922.79" y="397.3" width="1.2" height="49.4" fill="#f23645"/>
<rect x="920.39" y="402.0" width="6.0" height="25.1" fill="#f23645"/>
<rect x="929.67" y="369.2" width="1.2" height="58.8" fill="#089981"/>
<rect x="927.27" y="372.5" width="6.0" height="55.0" fill="#089981"/>
<rect x="936.56" y="340.4" width="1.2" height="42.0" fill="#089981"/>
<rect x="934.16" y="341.8" width="6.0" height="33.3" fill="#089981"/>
<rect x="943.44" y="342.4" width="1.2" height="9.2" fill="#f23645"/>
<rect x="941.04" y="342.4" width="6.0" height="5.2" fill="#f23645"/>
<rect x="950.33" y="297.3" width="1.2" height="34.7" fill="#f23645"/>
<rect x="947.93" y="314.9" width="6.0" height="3.3" fill="#f23645"/>
<rect x="957.21" y="305.5" width="1.2" height="62.7" fill="#f23645"/>
<rect x="954.81" y="320.2" width="6.0" height="41.2" fill="#f23645"/>
<rect x="964.10" y="344.7" width="1.2" height="37.3" fill="#f23645"/>
<rect x="961.70" y="353.5" width="6.0" height="5.9" fill="#f23645"/>
<rect x="970.98" y="331.8" width="1.2" height="30.4" fill="#089981"/>
<rect x="968.58" y="344.1" width="6.0" height="15.1" fill="#089981"/>
<rect x="977.87" y="342.9" width="1.2" height="27.5" fill="#f23645"/>
<rect x="975.47" y="344.1" width="6.0" height="22.4" fill="#f23645"/>
<rect x="984.75" y="369.0" width="1.2" height="55.5" fill="#f23645"/>
<rect x="982.36" y="369.0" width="6.0" height="25.5" fill="#f23645"/>
<rect x="991.64" y="355.9" width="1.2" height="51.7" fill="#089981"/>
<rect x="989.24" y="366.1" width="6.0" height="28.4" fill="#089981"/>
<rect x="998.52" y="354.3" width="1.2" height="28.4" fill="#089981"/>
<rect x="996.12" y="362.5" width="6.0" height="3.2" fill="#089981"/>
<rect x="1005.41" y="328.8" width="1.2" height="50.6" fill="#089981"/>
<rect x="1003.01" y="334.3" width="6.0" height="28.2" fill="#089981"/>
<rect x="1012.29" y="307.3" width="1.2" height="38.2" fill="#f23645"/>
<rect x="1009.89" y="333.7" width="6.0" height="10.4" fill="#f23645"/>
<rect x="1019.18" y="326.5" width="1.2" height="51.7" fill="#089981"/>
<rect x="1016.78" y="335.7" width="6.0" height="9.8" fill="#089981"/>
<rect x="1026.07" y="327.7" width="1.2" height="33.2" fill="#f23645"/>
<rect x="1023.66" y="335.6" width="6.0" height="13.9" fill="#f23645"/>
<rect x="1032.95" y="301.7" width="1.2" height="51.9" fill="#089981"/>
<rect x="1030.55" y="312.1" width="6.0" height="37.4" fill="#089981"/>
<rect x="1039.84" y="276.1" width="1.2" height="44.9" fill="#089981"/>
<rect x="1037.43" y="302.3" width="6.0" height="10.0" fill="#089981"/>
<rect x="1046.72" y="277.8" width="1.2" height="36.4" fill="#089981"/>
<rect x="1044.32" y="284.0" width="6.0" height="18.7" fill="#089981"/>
<rect x="1053.61" y="284.4" width="1.2" height="76.5" fill="#f23645"/>
<rect x="1051.20" y="286.5" width="6.0" height="69.8" fill="#f23645"/>
<rect x="1060.49" y="343.2" width="1.2" height="48.5" fill="#f23645"/>
<rect x="1058.09" y="355.7" width="6.0" height="32.2" fill="#f23645"/>
<rect x="1067.38" y="321.8" width="1.2" height="76.1" fill="#089981"/>
<rect x="1064.97" y="329.3" width="6.0" height="61.7" fill="#089981"/>
<rect x="1074.26" y="313.1" width="1.2" height="43.7" fill="#089981"/>
<rect x="1071.86" y="320.4" width="6.0" height="9.8" fill="#089981"/>
<rect x="1081.14" y="283.0" width="1.2" height="40.1" fill="#089981"/>
<rect x="1078.74" y="287.1" width="6.0" height="34.3" fill="#089981"/>
<rect x="1088.03" y="242.9" width="1.2" height="62.9" fill="#089981"/>
<rect x="1085.63" y="253.9" width="6.0" height="31.2" fill="#089981"/>
<rect x="1094.91" y="237.3" width="1.2" height="34.3" fill="#f23645"/>
<rect x="1092.51" y="254.5" width="6.0" height="1.5" fill="#f23645"/>
<rect x="1101.80" y="238.2" width="1.2" height="64.4" fill="#f23645"/>
<rect x="1099.40" y="254.8" width="6.0" height="42.6" fill="#f23645"/>
<rect x="1108.68" y="264.2" width="1.2" height="70.6" fill="#089981"/>
<rect x="1106.28" y="273.1" width="6.0" height="24.3" fill="#089981"/>
<rect x="1115.57" y="279.3" width="1.2" height="26.4" fill="#089981"/>
<rect x="1113.17" y="283.9" width="6.0" height="14.1" fill="#089981"/>
<rect x="1122.45" y="271.0" width="1.2" height="25.4" fill="#089981"/>
<rect x="1120.05" y="282.9" width="6.0" height="1.4" fill="#089981"/>
<rect x="1129.34" y="275.6" width="1.2" height="25.3" fill="#f23645"/>
<rect x="1126.94" y="284.9" width="6.0" height="2.1" fill="#f23645"/>
<rect x="1136.22" y="273.1" width="1.2" height="21.6" fill="#089981"/>
<rect x="1133.82" y="282.2" width="6.0" height="4.8" fill="#089981"/>
<rect x="1143.11" y="244.0" width="1.2" height="41.6" fill="#089981"/>
<rect x="1140.71" y="250.2" width="6.0" height="32.7" fill="#089981"/>
<rect x="1149.99" y="239.2" width="1.2" height="22.9" fill="#089981"/>
<rect x="1147.59" y="241.3" width="6.0" height="9.3" fill="#089981"/>
<rect x="1156.88" y="217.4" width="1.2" height="25.4" fill="#089981"/>
<rect x="1154.48" y="217.4" width="6.0" height="24.5" fill="#089981"/>
<rect x="1163.77" y="195.6" width="1.2" height="54.0" fill="#f23645"/>
<rect x="1161.37" y="217.4" width="6.0" height="22.9" fill="#f23645"/>
<rect x="1170.65" y="216.1" width="1.2" height="29.5" fill="#f23645"/>
<rect x="1168.25" y="239.4" width="6.0" height="5.1" fill="#f23645"/>
<rect x="1177.54" y="216.5" width="1.2" height="60.3" fill="#089981"/>
<rect x="1175.13" y="218.2" width="6.0" height="25.7" fill="#089981"/>
<rect x="1184.42" y="192.0" width="1.2" height="47.8" fill="#089981"/>
<rect x="1182.02" y="192.0" width="6.0" height="26.6" fill="#089981"/>
<rect x="1191.31" y="186.4" width="1.2" height="30.5" fill="#f23645"/>
<rect x="1188.90" y="192.6" width="6.0" height="12.5" fill="#f23645"/>
<rect x="1198.19" y="192.6" width="1.2" height="29.1" fill="#089981"/>
<rect x="1195.79" y="197.4" width="6.0" height="7.7" fill="#089981"/>
<rect x="1205.08" y="166.2" width="1.2" height="35.3" fill="#089981"/>
<rect x="1202.67" y="172.9" width="6.0" height="24.5" fill="#089981"/>
<rect x="1211.96" y="170.4" width="1.2" height="17.4" fill="#f23645"/>
<rect x="1209.56" y="172.9" width="6.0" height="9.3" fill="#f23645"/>
<rect x="1218.85" y="170.4" width="1.2" height="40.9" fill="#f23645"/>
<rect x="1216.44" y="182.2" width="6.0" height="11.9" fill="#f23645"/>
<rect x="1225.73" y="175.4" width="1.2" height="43.6" fill="#089981"/>
<rect x="1223.33" y="186.4" width="6.0" height="7.7" fill="#089981"/>
<rect x="1232.62" y="161.4" width="1.2" height="65.1" fill="#f23645"/>
<rect x="1230.21" y="185.3" width="6.0" height="19.8" fill="#f23645"/>
<rect x="1239.50" y="199.4" width="1.2" height="45.7" fill="#f23645"/>
<rect x="1237.10" y="204.5" width="6.0" height="30.8" fill="#f23645"/>
<rect x="1246.38" y="213.3" width="1.2" height="53.2" fill="#089981"/>
<rect x="1243.98" y="222.8" width="6.0" height="12.5" fill="#089981"/>
<rect x="1253.27" y="205.0" width="1.2" height="98.9" fill="#f23645"/>
<rect x="1250.87" y="222.8" width="6.0" height="65.9" fill="#f23645"/>
<rect x="1260.15" y="281.0" width="1.2" height="22.2" fill="#089981"/>
<rect x="1257.75" y="286.0" width="6.0" height="2.7" fill="#089981"/>
<rect x="1267.04" y="278.3" width="1.2" height="23.9" fill="#089981"/>
<rect x="1264.64" y="292.9" width="6.0" height="7.6" fill="#089981"/>
<rect x="1273.92" y="291.4" width="1.2" height="71.1" fill="#f23645"/>
<rect x="1271.52" y="292.9" width="6.0" height="47.7" fill="#f23645"/>
<rect x="1280.81" y="315.7" width="1.2" height="43.7" fill="#f23645"/>
<rect x="1278.41" y="339.2" width="6.0" height="5.6" fill="#f23645"/>
<rect x="1287.70" y="302.2" width="1.2" height="44.7" fill="#089981"/>
<rect x="1285.30" y="311.6" width="6.0" height="33.2" fill="#089981"/>
<rect x="1294.58" y="283.9" width="1.2" height="45.3" fill="#089981"/>
<rect x="1292.18" y="288.7" width="6.0" height="22.9" fill="#089981"/>
<rect x="1301.47" y="267.9" width="1.2" height="23.5" fill="#089981"/>
<rect x="1299.07" y="270.6" width="6.0" height="16.0" fill="#089981"/>
<rect x="1308.35" y="251.1" width="1.2" height="44.9" fill="#f23645"/>
<rect x="1305.95" y="270.8" width="6.0" height="24.1" fill="#f23645"/>
<rect x="1315.24" y="284.0" width="1.2" height="49.3" fill="#f23645"/>
<rect x="1312.84" y="294.3" width="6.0" height="32.0" fill="#f23645"/>
<rect x="1322.12" y="295.6" width="1.2" height="43.2" fill="#089981"/>
<rect x="1319.72" y="302.6" width="6.0" height="23.7" fill="#089981"/>
<rect x="1329.01" y="281.1" width="1.2" height="32.5" fill="#089981"/>
<rect x="1326.61" y="282.9" width="6.0" height="19.7" fill="#089981"/>
<rect x="1335.89" y="275.2" width="1.2" height="129.3" fill="#f23645"/>
<rect x="1333.49" y="284.0" width="6.0" height="89.8" fill="#f23645"/>
<rect x="1342.78" y="362.2" width="1.2" height="64.2" fill="#f23645"/>
<rect x="1340.38" y="372.3" width="6.0" height="27.8" fill="#f23645"/>
<rect x="1349.66" y="340.3" width="1.2" height="72.3" fill="#089981"/>
<rect x="1347.26" y="361.3" width="6.0" height="38.8" fill="#089981"/>
<rect x="1356.55" y="332.8" width="1.2" height="34.5" fill="#089981"/>
<rect x="1354.14" y="337.2" width="6.0" height="24.6" fill="#089981"/>
<rect x="1363.43" y="334.4" width="1.2" height="37.9" fill="#f23645"/>
<rect x="1361.03" y="337.2" width="6.0" height="12.5" fill="#f23645"/>
<rect x="1370.32" y="350.4" width="1.2" height="74.3" fill="#f23645"/>
<rect x="1367.91" y="350.7" width="6.0" height="73.5" fill="#f23645"/>
<rect x="1377.20" y="400.0" width="1.2" height="39.7" fill="#089981"/>
<rect x="1374.80" y="415.0" width="6.0" height="7.5" fill="#089981"/>
<rect x="1384.09" y="409.8" width="1.2" height="58.8" fill="#089981"/>
<rect x="1381.68" y="414.3" width="6.0" height="1.4" fill="#089981"/>
<rect x="1390.97" y="390.8" width="1.2" height="40.8" fill="#089981"/>
<rect x="1388.57" y="404.0" width="6.0" height="11.5" fill="#089981"/>
<rect x="1397.86" y="355.9" width="1.2" height="64.0" fill="#089981"/>
<rect x="1395.45" y="362.5" width="6.0" height="41.8" fill="#089981"/>
<rect x="1404.74" y="340.0" width="1.2" height="42.7" fill="#089981"/>
<rect x="1402.34" y="346.4" width="6.0" height="17.3" fill="#089981"/>
<rect x="1411.62" y="374.9" width="1.2" height="22.8" fill="#f23645"/>
<rect x="1409.22" y="380.5" width="6.0" height="1.7" fill="#f23645"/>
<rect x="1418.51" y="381.8" width="1.2" height="49.8" fill="#f23645"/>
<rect x="1416.11" y="381.8" width="6.0" height="32.9" fill="#f23645"/>
<rect x="1425.39" y="400.9" width="1.2" height="33.7" fill="#f23645"/>
<rect x="1422.99" y="414.7" width="6.0" height="13.8" fill="#f23645"/>
<line x1="11.35" y1="428.1" x2="1458" y2="428.1" stroke="#f23645" stroke-width="1.4" stroke-dasharray="1.8 1.75"/>
</g>
<g fill="#d1d4dc">
<path d="M11.9 839.9H20.9V851.5H16.2V844.4H11.9Z"/>
<circle cx="24.8" cy="842.4" r="2.5"/>
<path d="M29.3 839.9H34.8L30.6 851.5H25.1Z"/>
</g>
</svg>
<svg class="tx" width="1600" height="867" viewBox="0 0 1600 867">
<defs><clipPath id="ca2"><rect x="1516" y="32" width="72" height="761"/></clipPath></defs>
<g clip-path="url(#ca2)">
<text x="1526.20" y="795.50" font-size="14.0" fill="#b2b5be" textLength="39.80" lengthAdjust="spacingAndGlyphs">56.00</text>
<text x="1526.20" y="758.30" font-size="14.0" fill="#b2b5be" textLength="39.80" lengthAdjust="spacingAndGlyphs">60.00</text>
<text x="1526.20" y="721.10" font-size="14.0" fill="#b2b5be" textLength="39.80" lengthAdjust="spacingAndGlyphs">64.00</text>
<text x="1526.20" y="683.90" font-size="14.0" fill="#b2b5be" textLength="39.80" lengthAdjust="spacingAndGlyphs">68.00</text>
<text x="1526.20" y="646.70" font-size="14.0" fill="#b2b5be" textLength="39.80" lengthAdjust="spacingAndGlyphs">72.00</text>
<text x="1526.20" y="609.50" font-size="14.0" fill="#b2b5be" textLength="39.80" lengthAdjust="spacingAndGlyphs">76.00</text>
<text x="1526.20" y="572.30" font-size="14.0" fill="#b2b5be" textLength="39.80" lengthAdjust="spacingAndGlyphs">80.00</text>
<text x="1526.20" y="535.10" font-size="14.0" fill="#b2b5be" textLength="39.80" lengthAdjust="spacingAndGlyphs">84.00</text>
<text x="1526.20" y="497.90" font-size="14.0" fill="#b2b5be" textLength="39.80" lengthAdjust="spacingAndGlyphs">88.00</text>
<text x="1526.20" y="460.70" font-size="14.0" fill="#b2b5be" textLength="39.80" lengthAdjust="spacingAndGlyphs">92.00</text>
<text x="1526.20" y="423.50" font-size="14.0" fill="#b2b5be" textLength="39.80" lengthAdjust="spacingAndGlyphs">96.00</text>
<text x="1527.70" y="386.30" font-size="14.0" fill="#b2b5be" textLength="47.90" lengthAdjust="spacingAndGlyphs">100.00</text>
<text x="1527.70" y="349.10" font-size="14.0" fill="#b2b5be" textLength="47.90" lengthAdjust="spacingAndGlyphs">104.00</text>
<text x="1527.70" y="311.90" font-size="14.0" fill="#b2b5be" textLength="47.90" lengthAdjust="spacingAndGlyphs">108.00</text>
<text x="1527.70" y="274.70" font-size="14.0" fill="#b2b5be" textLength="47.90" lengthAdjust="spacingAndGlyphs">112.00</text>
<text x="1527.70" y="237.50" font-size="14.0" fill="#b2b5be" textLength="47.90" lengthAdjust="spacingAndGlyphs">116.00</text>
<text x="1527.70" y="200.30" font-size="14.0" fill="#b2b5be" textLength="47.90" lengthAdjust="spacingAndGlyphs">120.00</text>
<text x="1527.70" y="163.10" font-size="14.0" fill="#b2b5be" textLength="47.90" lengthAdjust="spacingAndGlyphs">124.00</text>
<text x="1527.70" y="125.90" font-size="14.0" fill="#b2b5be" textLength="47.90" lengthAdjust="spacingAndGlyphs">128.00</text>
<text x="1527.70" y="88.70" font-size="14.0" fill="#b2b5be" textLength="47.90" lengthAdjust="spacingAndGlyphs">132.00</text>
<text x="1526.8" y="52.8" font-size="14.5" fill="#b2b5be" textLength="29.5" lengthAdjust="spacingAndGlyphs">USD</text>
</g>
<rect x="1458" y="418" width="55.5" height="20" rx="2" fill="#f23645"/>
<rect x="1515" y="418" width="59" height="20" rx="2" fill="#f23645"/>
<text x="1464.6" y="432.4" font-size="13.3" fill="#fff" textLength="41.8" lengthAdjust="spacingAndGlyphs">USOIL</text>
<text x="1526.4" y="432.4" font-size="13.6" fill="#fff" textLength="39.6" lengthAdjust="spacingAndGlyphs">95.00</text>
<g transform="translate(0 26.00) scale(1 1.08) translate(0 -26.00)"><text x="11.00" y="26.00" font-size="15" fill="#d1d4dc" stroke="#d1d4dc" stroke-width="0.3" textLength="429.00" lengthAdjust="spacingAndGlyphs">jackieyutw發表於TradingView.com，七月 24, 2022 00:10 UTC+8</text></g>
<text x="21.20" y="57.90" font-size="13.4" fill="#b2b5be" stroke="#b2b5be" stroke-width="0.3" textLength="182.90" lengthAdjust="spacingAndGlyphs">WTI 原油差價合約, 1天, TVC</text>
<text x="211.90" y="57.90" font-size="13.4" fill="#b2b5be" stroke="#b2b5be" stroke-width="0.3" textLength="23.30" lengthAdjust="spacingAndGlyphs">開=</text>
<text x="235.40" y="57.90" font-size="13.4" fill="#f23645" stroke="#f23645" stroke-width="0.3" textLength="40.00" lengthAdjust="spacingAndGlyphs">96.39</text>
<text x="283.10" y="57.90" font-size="13.4" fill="#b2b5be" stroke="#b2b5be" stroke-width="0.3" textLength="22.80" lengthAdjust="spacingAndGlyphs">高=</text>
<text x="306.10" y="57.90" font-size="13.4" fill="#f23645" stroke="#f23645" stroke-width="0.3" textLength="37.60" lengthAdjust="spacingAndGlyphs">97.93</text>
<text x="351.50" y="57.90" font-size="13.4" fill="#b2b5be" stroke="#b2b5be" stroke-width="0.3" textLength="22.60" lengthAdjust="spacingAndGlyphs">低=</text>
<text x="374.10" y="57.90" font-size="13.4" fill="#f23645" stroke="#f23645" stroke-width="0.3" textLength="39.60" lengthAdjust="spacingAndGlyphs">94.26</text>
<text x="422.10" y="57.90" font-size="13.4" fill="#b2b5be" stroke="#b2b5be" stroke-width="0.3" textLength="22.90" lengthAdjust="spacingAndGlyphs">收=</text>
<text x="445.10" y="57.90" font-size="13.4" fill="#f23645" stroke="#f23645" stroke-width="0.3" textLength="38.60" lengthAdjust="spacingAndGlyphs">95.00</text>
<text x="492.10" y="57.90" font-size="13.4" fill="#f23645" stroke="#f23645" stroke-width="0.3" textLength="36.60" lengthAdjust="spacingAndGlyphs">−1.42</text>
<text x="533.10" y="57.90" font-size="13.4" fill="#f23645" stroke="#f23645" stroke-width="0.3" textLength="59.60" lengthAdjust="spacingAndGlyphs">(−1.47%)</text>
<text x="21.20" y="77.90" font-size="13.4" fill="#b2b5be" stroke="#b2b5be" stroke-width="0.3" textLength="74.20" lengthAdjust="spacingAndGlyphs">成交量(Vol)</text>
<text x="104.10" y="77.90" font-size="13.4" fill="#f23645" stroke="#f23645" stroke-width="0.3" textLength="8.70" lengthAdjust="spacingAndGlyphs">0</text>
<text x="20.85" y="98.00" font-size="13.4" fill="#b2b5be" stroke="#b2b5be" stroke-width="0.3" textLength="169.60" lengthAdjust="spacingAndGlyphs">MA (20, close, 0, SMA, 5)</text>
<text x="198.90" y="98.00" font-size="13.4" fill="#ffeb3b" stroke="#ffeb3b" stroke-width="0.3" textLength="46.30" lengthAdjust="spacingAndGlyphs">102.44</text>
<text x="20.85" y="118.00" font-size="13.4" fill="#b2b5be" stroke="#b2b5be" stroke-width="0.3" textLength="169.60" lengthAdjust="spacingAndGlyphs">MA (60, close, 0, SMA, 5)</text>
<text x="199.30" y="118.00" font-size="13.4" fill="#6a3dba" stroke="#6a3dba" stroke-width="0.3" textLength="43.60" lengthAdjust="spacingAndGlyphs">108.91</text>
<text x="20.50" y="138.00" font-size="13.4" fill="#b2b5be" stroke="#b2b5be" stroke-width="0.3" textLength="177.10" lengthAdjust="spacingAndGlyphs">MA (120, close, 0, SMA, 5)</text>
<text x="204.60" y="138.00" font-size="13.4" fill="#f23645" stroke="#f23645" stroke-width="0.3" textLength="44.30" lengthAdjust="spacingAndGlyphs">105.16</text>
<text x="20.50" y="158.00" font-size="13.4" fill="#b2b5be" stroke="#b2b5be" stroke-width="0.3" textLength="179.70" lengthAdjust="spacingAndGlyphs">MA (240, close, 0, SMA, 5)</text>
<text x="207.60" y="158.00" font-size="13.4" fill="#089981" stroke="#089981" stroke-width="0.3" textLength="39.80" lengthAdjust="spacingAndGlyphs">90.88</text>
<text x="138.50" y="815.0" font-size="14" fill="#b2b5be" text-anchor="middle">十一月</text>
<text x="289.75" y="815.0" font-size="14" fill="#b2b5be" text-anchor="middle">十二月</text>
<text x="441.50" y="815.3" font-size="14.5" font-weight="bold" fill="#b2b5be" text-anchor="middle" textLength="37.5" lengthAdjust="spacingAndGlyphs">2022</text>
<text x="586.00" y="815.0" font-size="14" fill="#b2b5be" text-anchor="middle">二月</text>
<text x="723.50" y="815.0" font-size="14" fill="#b2b5be" text-anchor="middle">三月</text>
<text x="882.50" y="815.0" font-size="14" fill="#b2b5be" text-anchor="middle">四月</text>
<text x="1019.75" y="815.0" font-size="14" fill="#b2b5be" text-anchor="middle">五月</text>
<text x="1171.50" y="815.0" font-size="14" fill="#b2b5be" text-anchor="middle">六月</text>
<text x="1322.75" y="815.0" font-size="14" fill="#b2b5be" text-anchor="middle">七月</text>
<text x="1467.50" y="815.0" font-size="14" fill="#b2b5be" text-anchor="middle">八月</text>
<text x="39.4" y="851.7" font-size="16.8" fill="#d1d4dc" stroke="#d1d4dc" stroke-width="0.55" textLength="87.8" lengthAdjust="spacingAndGlyphs">TradingView</text>
</svg>
</body></html>
